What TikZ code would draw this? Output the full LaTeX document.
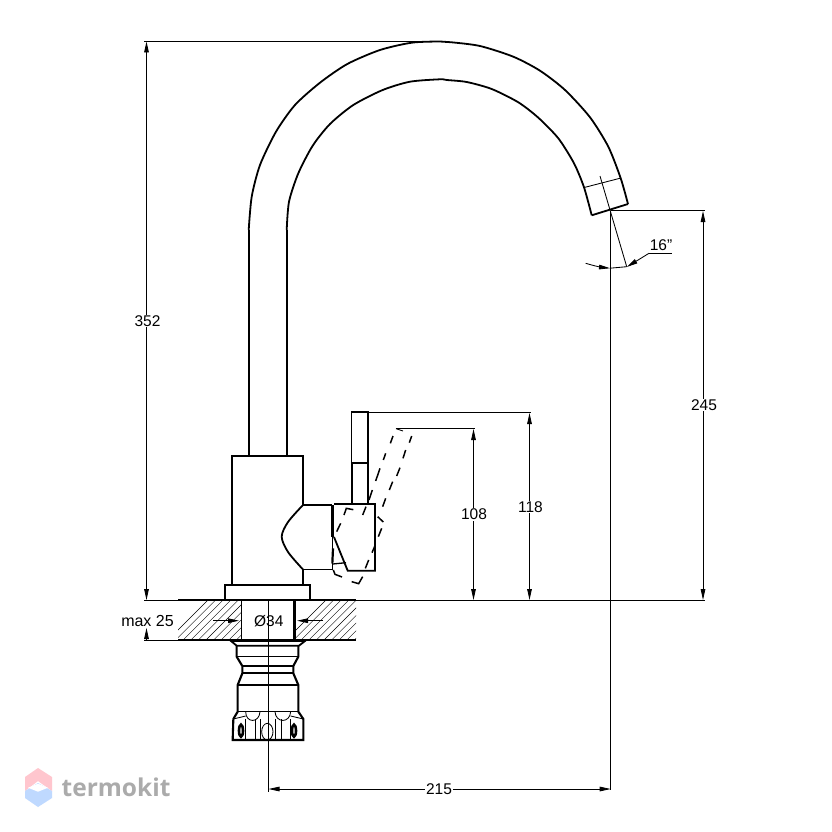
\documentclass[tikz,border=0pt]{standalone}
\usepackage{fontspec}
\setmainfont{Liberation Sans}
\newfontfamily\wmfont{Open Sans}
\usetikzlibrary{arrows.meta}
\definecolor{wmpink}{HTML}{FFC6CE}
\definecolor{wmblue}{HTML}{BFD9FF}
\definecolor{wmgrey}{HTML}{ABABAB}
\tikzset{
  outline/.style={line width=1.8pt,line join=miter,black},
  medline/.style={line width=1.3pt,black},
  thinline/.style={line width=0.85pt,black},
  hatchline/.style={line width=0.4pt,black},
  dim/.style={line width=0.85pt,black,{Triangle[length=11pt,width=4.6pt]}-{Triangle[length=11pt,width=4.6pt]}},
  dimtip/.style={line width=0.85pt,black,-{Triangle[length=11pt,width=4.6pt]}},
  dashseg/.style={line width=1.5pt,black},
  lab/.style={font=\fontsize{15.5pt}{16pt}\selectfont,inner sep=1pt},
  labw/.style={lab,fill=white},
}
\begin{document}
\begin{tikzpicture}[x=1pt,y=-1pt]
\useasboundingbox (0,0) rectangle (832,832);
\fill[white] (0,0) rectangle (832,832);

% spout
\draw[outline] plot[smooth,tension=0.45] coordinates {(248.7,230) (251.7,196.7) (260,165) (276,131.7) (295,105) (320,82.7) (347.3,64) (380,50) (411.7,42.7) (440,41.5) (451.7,42.3) (480,46) (513.3,56.7) (540,70.7) (565,90) (590,117.3) (608.3,146.7) (620.7,178.3) (628,204)};
\draw[outline] plot[smooth,tension=0.45] coordinates {(286.7,230) (289,201.7) (298.3,173.3) (312.7,145.7) (330,124) (353.3,105) (382.7,90) (410,81.7) (440,79.3) (446.7,80) (466.7,82) (491.7,89) (518.3,102.3) (538.3,117.7) (558.3,138.3) (574,163.3) (584,187.3) (591.7,215.3)};
\draw[outline] (591.7,215.3) -- (628,204);
\draw[thinline] (585,187.3) -- (621,178);
\draw[outline] (248.7,230) -- (248.7,456);
\draw[outline] (286.7,230) -- (286.7,456);

% body
\draw[outline] (303,505) -- (303,456) -- (232,456) -- (232,585);
\draw[outline] (303,569) -- (303,585);
\draw[outline] (303,505) -- (332,505);
\draw[outline] (303,569.5) -- (332,569.5);
\draw[outline] plot[smooth,tension=0.5] coordinates {(303,505) (288,522) (281.7,536.7) (288,552) (303,569.5)};
\draw[line width=2.8pt] (332.5,505) -- (332.5,537);
\draw[outline] (332.5,537) -- (332.5,569.5);
% base plate
\draw[outline] (225,600) -- (225,585) -- (310,585) -- (310,600);

% handle
\draw[outline] (334,504) -- (375,504) -- (375,570.7) -- (347.7,570.7) -- (334,537);
\draw[medline] (332.7,564) -- (346,562.7);
\draw[outline] (352,463) -- (352,504);
\draw[outline] (367.7,463) -- (367.7,504);
\draw[outline] (351.5,412) rectangle (368,463);
\draw[line width=2.4pt] (351.5,463) -- (368,463);

% dashed handle position
\begin{scope}[shift={(220,400)},scale=1/3]
  \draw[dashseg] (519,108) -- (511,130);
  \draw[dashseg] (497,160) -- (490,180);
  \draw[dashseg] (480,205) -- (467,243);
  \draw[dashseg] (457,270) -- (447,300);
  \draw[dashseg] (438,320) -- (428,345);
  \draw[dashseg] (575,108) -- (568,128);
  \draw[dashseg] (557,150) -- (549,175);
  \draw[dashseg] (540,203) -- (530,228);
  \draw[dashseg] (518,245) -- (508,270);
  \draw[dashseg] (497,295) -- (488,320);
  \draw[dashseg] (372,345) -- (379,325) -- (400,329);
  \draw[dashseg] (362,370) -- (350,395);
  \draw[dashseg] (473,350) -- (490,366);
  \draw[dashseg] (485,385) -- (475,410);
  \draw[dashseg] (465,437) -- (456,458);
  \draw[dashseg] (446,480) -- (436,505);
  \draw[dashseg] (395,545) -- (416,551) -- (428,530);
  \draw[dashseg] (340,510) -- (345,523) -- (366,531);
  \draw[line width=2.2pt] (339,445) -- (337,490);
  \draw[thinline] (528,86) -- (549,93);
\end{scope}

% countertop
\begin{scope}
  \clip (178,600) rectangle (241,640);
  \foreach \k in {0,...,14} {\draw[hatchline] (160+\k*7.6,648) -- (208+\k*7.6,600);}
\end{scope}
\begin{scope}
  \clip (296,600) rectangle (356,640);
  \foreach \k in {0,...,14} {\draw[hatchline] (278+\k*7.6,648) -- (326+\k*7.6,600);}
\end{scope}
\draw[outline] (241.5,600) -- (241.5,640);
\draw[line width=3pt] (294.5,600) -- (294.5,640);
\draw[thinline] (144,600) -- (705,600);
\draw[medline] (178,600) -- (356,600);
\draw[medline] (178,640) -- (356,640);
\draw[thinline] (144,640) -- (178,640);

% nut
\begin{scope}[shift={(225,640)},scale=1/3]
  \draw[outline] (18,3) -- (240,3) -- (222,17) -- (35,17) -- cycle;
  \draw[line width=2.1pt] (35,17) -- (35,50) -- (52,78) -- (52,100) -- (38,135) -- (38,215) -- (25,237) -- (23,300) -- (235,300) -- (235,237) -- (220,215) -- (220,135) -- (205,100) -- (205,78) -- (220,50) -- (220,17);
  \draw[thinline] (35,48) -- (220,48);
  \draw[outline] (52,78) -- (205,78);
  \draw[outline] (52,100) -- (205,100);
  \draw[medline] (38,135) -- (220,135);
  \draw[medline] (38,215) -- (220,215);
  \draw[thinline] (62,215) .. controls (62,250) and (103,250) .. (105,215);
  \draw[thinline] (150,215) .. controls (152,250) and (195,250) .. (197,215);
  \draw[thinline] (25,237) -- (62,228);
  \draw[thinline] (235,237) -- (197,228);
  \foreach \vx in {60,92,105,150,168,197} {\draw[thinline] (\vx,238) -- (\vx,300);}
  \draw[line width=2.6pt] (48,272) ellipse [x radius=6,y radius=18];
  \draw[line width=2.6pt] (207,272) ellipse [x radius=6,y radius=18];
  \draw[thinline] (127,275) ellipse [x radius=17,y radius=25];
\end{scope}

% central axis and spout axis
\draw[thinline] (268.5,600) -- (268.5,792);
\draw[thinline] (610.7,211) -- (610.7,790);
\draw[thinline] (600,176) -- (626.7,266.7);
\draw[thinline] (610.7,210.7) -- (705,210.7);

% extension lines
\draw[thinline] (144,41.3) -- (430,41.3);
\draw[thinline] (368,412.5) -- (531,412.5);
\draw[thinline] (396,428.5) -- (475,428.5);

% dimensions
\draw[dim] (146.5,41.5) -- (146.5,600);
\draw[dimtip] (146.5,640) -- (146.5,628);
\draw[dim] (703,211) -- (703,600);
\draw[dim] (529.5,413) -- (529.5,600);
\draw[dim] (473.5,429) -- (473.5,600);
\draw[dim] (268.5,789) -- (610.7,789);
\draw[dimtip] (213,620.7) -- (239,620.7);
\draw[dimtip] (323,620.7) -- (297,620.7);

% angle
\draw[dimtip] plot[smooth,tension=0.5] coordinates {(585.7,263.3) (598,266.6) (610,268.2)};
\draw[thinline] (610,268.2) -- (626.7,266.7);
\draw[dimtip] (649,253.3) -- (626.7,267);
\draw[thinline] (649,253.3) -- (672,253.3);

% labels
\node[labw] (n352) at (147.5,321) {352};
\node[labw] (n245) at (704,405) {245};
\node[labw] (n118) at (530.5,507) {118};
\node[labw] (n108) at (474,514.5) {108};
\node[labw] (n215) at (439,789) {215};
\node[labw,font=\fontsize{16pt}{16pt}\selectfont] (nmax) at (147.5,621) {max 25};
\node[lab] (ndia) at (268.8,621.5) {Ø34};
\node[lab] (nang) at (661,245.5) {16"};

% watermark
\fill[wmpink] (38,768) -- (52,777) -- (52,791) -- (38,781) -- (25,791) -- (25,777) -- cycle;
\fill[wmblue] (25,791) -- (38,796) -- (52,791) -- (52,798) -- (38,807) -- (25,798) -- cycle;
\fill[wmblue] (25,791) -- (38,783) -- (52,791) -- (38,799) -- cycle;
\fill[white] (28,787.7) -- (38,783.7) -- (48,787.7) -- (38,791.7) -- cycle;
\node[font=\wmfont\bfseries\fontsize{24.5pt}{25pt}\selectfont,text=wmgrey,inner sep=0pt,anchor=west] (wm) at (61.5,787) {termokit};
\end{tikzpicture}
\end{document}
